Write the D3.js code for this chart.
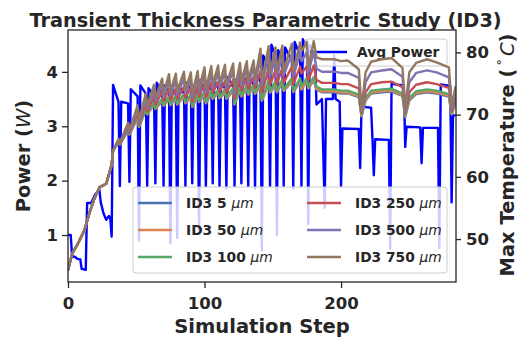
<!DOCTYPE html>
<html>
<head>
<meta charset="utf-8">
<script src="https://cdn.jsdelivr.net/npm/d3@7"></script>
<style>
body{margin:0;background:#fff;}
svg{display:block;font-family:"DejaVu Sans",sans-serif;}
</style>
</head>
<body>
<svg id="chart" width="522" height="341"></svg>
<script>
// values
const xTicks = [0, 100, 200];
const powerTicks = [1, 2, 3, 4];
const tempTicks = [50, 60, 70, 80];

// average power (W), step / value pairs at the break points of the trace
const powerSteps = [0,2,3,5,7,9,10,13,14,17,20,23,24,26,28,30,31,32,33,35,37,38,39,44,45,46,51,52,53,57,58,59,63,64,65,69,70,71,74,75,76,79,80,81,85,86,87,90,91,92,95,96,97,100,101,102,105,106,107,110,111,112,115,116,117,121,122,123,126,127,128,131,132,133,136,137,138,141,142,143,147,148,149,152,153,154,157,158,159,164,165,166,170,171,172,175,176,177,181,182,186,188,189,194,195,196,199,200,201,213,214,215,222,223,224,225,235,236,237,246,247,248,258,259,260,271,272,273,280,281,282,284];
const powerValues = [1.0,1.0,0.6,0.6,0.56,0.55,0.38,0.36,1.59,1.59,1.75,1.83,1.6,1.4,1.28,1.35,1.3,0.97,3.76,3.6,3.45,1.9,3.45,3.42,1.98,3.68,3.55,0.9,3.75,3.6,1.9,3.7,3.55,1.95,3.8,3.6,1.9,3.75,3.65,0.85,3.7,3.6,0.95,3.75,3.6,1.9,3.8,3.65,1.95,3.75,3.62,1.1,3.85,3.7,1.9,3.8,3.68,1.95,3.85,3.7,1.9,3.8,3.7,1.85,3.9,3.72,1.9,3.85,3.75,1.95,3.95,3.8,1.9,3.9,3.75,1.85,4.0,3.8,0.72,4.3,4.1,1.9,4.5,4.3,1.0,4.4,4.2,1.9,4.45,4.2,1.85,4.55,4.3,1.9,4.6,4.4,1.2,4.5,4.3,3.4,3.5,1.5,3.5,3.5,4.3,3.5,3.45,1.9,2.96,2.95,2.23,3.36,3.34,2.78,2.1,2.76,2.75,0.75,3.78,3.75,2.62,2.99,2.98,2.32,2.97,2.97,0.76,3.77,3.74,1.6,3.2,3.2];

// max temperature (C) for each thickness, sampled at the same steps
const tempSteps = [0,3,8,12,16,19,23,28,30,32,33,37,38,44,45,51,52,57,58,63,64,69,70,74,75,79,80,85,86,90,91,95,96,100,101,105,106,110,111,115,116,121,122,126,127,131,132,136,137,141,142,147,148,152,153,157,158,164,165,170,171,175,176,180,182,186,195,200,205,213,215,218,222,230,237,245,247,250,255,263,270,279,281,284];
const temp5 = [45.0,47.6,49.6,51.4,54.4,56.3,58.3,58.9,60.4,62.0,64.2,
  65.6,65.2,67.5,66.8,69.5,68.0,70.8,70.0,71.6,70.9,72.2,71.4,72.5,71.5,72.6,71.6,72.9,71.8,72.8,71.2,73.0,72.0,73.2,71.8,73.4,72.5,73.5,72.6,73.6,72.5,73.8,71.6,73.9,72.9,74.2,73.2,74.3,73.3,74.6,72.2,75.0,73.5,74.8,73.6,75.1,73.8,75.3,73.6,75.3,74.0,75.4,74.2,75.5,
  74.0,73.6,73.6,73.4,73.4,72.8,69.7,72.3,73.4,73.6,73.7,73.0,69.6,72.3,73.3,73.6,73.4,72.9,70.0,71.8];
const temp50 = [45.0,47.6,49.6,51.4,54.4,56.3,58.3,58.9,60.4,62.0,64.2,
  65.62,65.21,67.55,66.83,69.6,68.05,70.9,70.05,71.7,70.95,72.32,71.47,72.62,71.57,72.72,71.67,73.02,71.87,72.92,71.27,73.12,72.07,73.35,71.88,73.55,72.58,73.65,72.68,73.75,72.58,73.95,71.68,74.05,72.98,74.35,73.28,74.45,73.38,74.75,72.28,75.15,73.58,74.95,73.68,75.25,73.88,75.45,73.68,75.45,74.08,75.55,74.28,75.65,
  74.15,73.75,73.75,73.55,73.55,72.95,69.8,72.45,73.55,73.75,73.85,73.15,69.7,72.45,73.45,73.75,73.55,73.05,70.1,71.9];
const temp100 = [45.0,47.6,49.6,51.4,54.4,56.3,58.3,58.9,60.4,62.0,64.2,
  65.65,65.23,67.65,66.88,69.75,68.15,71.1,70.15,71.95,71.1,72.6,71.62,72.95,71.75,73.05,71.85,73.35,72.05,73.25,71.45,73.45,72.25,73.7,72.08,73.9,72.78,74.0,72.88,74.1,72.78,74.3,71.88,74.4,73.18,74.7,73.48,74.8,73.58,75.15,72.5,75.55,73.8,75.35,73.9,75.65,74.1,75.85,73.9,75.85,74.6,75.95,74.5,76.05,
  74.5,74.05,74.05,73.85,73.85,73.2,70.0,72.7,73.85,74.05,74.15,73.4,69.9,72.7,73.75,74.05,73.85,73.3,70.3,72.1];
const temp250 = [45.0,47.6,49.6,51.4,54.4,56.3,58.3,58.9,60.4,62.0,64.2,
  65.75,65.28,67.95,67.05,70.3,68.45,71.8,70.55,72.9,71.6,73.7,72.2,74.1,72.4,74.2,72.5,74.5,72.7,74.4,72.1,74.6,72.9,75.0,72.8,75.2,73.5,75.3,73.6,75.4,73.5,75.6,72.6,75.7,73.9,76.0,74.2,76.1,74.3,77.0,73.5,77.4,74.8,77.2,74.9,77.5,75.1,77.7,74.9,77.7,76.6,77.8,75.5,77.9,
  75.6,75.1,75.1,74.9,74.9,74.2,70.3,73.6,74.9,75.2,75.3,74.4,70.2,73.6,74.8,75.2,74.9,74.3,70.6,72.8];
const temp500 = [45.0,47.6,49.6,51.4,54.4,56.3,58.3,58.9,60.4,62.0,64.2,
  65.9,65.37,68.3,67.25,70.9,68.8,72.7,71.05,73.9,72.2,74.8,72.85,75.4,73.1,75.5,73.2,75.8,73.4,75.7,72.8,75.9,73.6,76.4,73.55,76.6,74.25,76.7,74.35,76.8,74.25,77.0,73.35,77.1,74.65,77.4,74.95,77.5,75.05,79.1,74.7,79.5,76.0,79.3,76.1,79.6,76.3,79.8,76.1,79.9,78.6,80.0,76.7,80.1,
  77.4,76.9,76.9,76.7,76.7,75.9,70.6,75.2,76.8,77.1,77.3,76.1,70.5,75.2,76.7,77.1,76.8,76.0,71.0,73.6];
const temp750 = [45.0,47.6,49.6,51.4,54.4,56.3,58.3,58.9,60.4,62.0,64.2,
  66.1,65.48,68.7,67.5,71.5,69.1,73.4,71.45,74.8,72.7,75.8,73.4,76.5,73.7,76.6,73.8,76.9,74.0,76.8,73.4,77.0,74.2,77.6,74.2,77.8,74.9,77.9,75.0,78.0,74.9,78.2,74.0,78.3,75.3,78.6,75.6,78.7,75.7,80.6,75.5,81.0,76.8,80.8,76.9,81.1,77.1,81.4,76.9,81.6,80.2,81.7,77.5,81.8,
  79.2,78.9,78.9,78.6,78.7,77.3,71.0,76.8,78.5,78.9,79.1,77.5,70.9,76.8,78.3,78.9,78.4,77.6,71.5,74.6];

const thicknessLabels = ['5', '50', '100', '250', '500', '750'];
const thicknessColors = ['#4c72b0', '#dd8452', '#55a868', '#c44e52', '#8172b3', '#937860'];
const tempSeries = [temp5, temp50, temp100, temp250, temp500, temp750];

const ink = '#262626';
const plot = {left: 68, right: 456, top: 30, bottom: 282};

const svg = d3.select('#chart');

const x = d3.scaleLinear().domain([0, 284.2]).range([plot.left, plot.right]);
const yP = d3.scaleLinear().domain([0.136, 4.77]).range([plot.bottom, plot.top]);
const yT = d3.scaleLinear().domain([43.1, 83.6]).range([plot.bottom, plot.top]);

svg.append('defs').append('clipPath').attr('id', 'plotClip').append('rect')
  .attr('x', plot.left).attr('y', plot.top)
  .attr('width', plot.right - plot.left).attr('height', plot.bottom - plot.top);

//power trace (left axis)
const powerPts = powerSteps.map((s, i) => [s, powerValues[i]]);
svg.append('path').datum(powerPts)
  .attr('d', d3.line().x(d => x(d[0])).y(d => yP(d[1])))
  .attr('fill', 'none').attr('stroke', '#0000ff').attr('stroke-width', 2.4)
  .attr('stroke-linejoin', 'round').attr('clip-path', 'url(#plotClip)');

//legend of the left axis sits under the temperature lines
const leg1 = svg.append('g');
leg1.append('rect').attr('x', 305).attr('y', 39).attr('width', 142).attr('height', 27)
  .attr('rx', 3).attr('fill', '#fff').attr('fill-opacity', 0.8).attr('stroke', '#ccc').attr('stroke-width', 1);
leg1.append('line').attr('x1', 310).attr('x2', 347).attr('y1', 52).attr('y2', 52)
  .attr('stroke', '#0000ff').attr('stroke-width', 2.4);
leg1.append('text').attr('x', 357).attr('y', 57).attr('font-size', 13.8).attr('font-weight', 'bold')
  .attr('fill', ink).text('Avg Power');

//temperature traces (right axis)
const tempLine = d3.line().x(d => x(d[0])).y(d => yT(d[1]));
tempSeries.forEach((vals, k) => {
  svg.append('path').datum(tempSteps.map((s, i) => [s, vals[i]]))
    .attr('d', tempLine).attr('fill', 'none')
    .attr('stroke', thicknessColors[k]).attr('stroke-width', 2.4)
    .attr('stroke-linejoin', 'round').attr('clip-path', 'url(#plotClip)');
});

//legend of the thickness runs
const leg2 = svg.append('g');
leg2.append('rect').attr('x', 133).attr('y', 187).attr('width', 314).attr('height', 86)
  .attr('rx', 3).attr('fill', '#fff').attr('fill-opacity', 0.8).attr('stroke', '#ccc').attr('stroke-width', 1);
thicknessLabels.forEach((t, k) => {
  const col = Math.floor(k / 3), row = k % 3;
  const lx = col === 0 ? 138 : 307;
  const ly = 203 + row * 27;
  leg2.append('line').attr('x1', lx).attr('x2', lx + 34).attr('y1', ly).attr('y2', ly)
    .attr('stroke', thicknessColors[k]).attr('stroke-width', 2.4);
  const tx = leg2.append('text').attr('x', lx + 48).attr('y', ly + 5)
    .attr('font-size', 13.8).attr('fill', ink);
  tx.append('tspan').attr('font-weight', 'bold').text(`ID3 ${t} `);
  tx.append('tspan').attr('font-style', 'italic').text('\u03bcm');
});

//frame
svg.append('rect').attr('x', plot.left).attr('y', plot.top)
  .attr('width', plot.right - plot.left).attr('height', plot.bottom - plot.top)
  .attr('fill', 'none').attr('stroke', ink).attr('stroke-width', 1.3);

const styleAxis = g => {
  g.select('.domain').remove();
  g.selectAll('line').attr('stroke', ink).attr('stroke-width', 1.3);
  g.selectAll('text').attr('font-size', 16.5).attr('font-weight', 'bold')
    .attr('fill', ink).attr('font-family', '"DejaVu Sans",sans-serif');
};

svg.append('g').attr('transform', `translate(0,${plot.bottom})`)
  .call(d3.axisBottom(x).tickValues(xTicks).tickSize(6).tickPadding(9.5).tickFormat(d3.format('d')))
  .call(styleAxis);
svg.append('g').attr('transform', `translate(${plot.left},0)`)
  .call(d3.axisLeft(yP).tickValues(powerTicks).tickSize(6).tickPadding(4).tickFormat(d3.format('d')))
  .call(styleAxis);
svg.append('g').attr('transform', `translate(${plot.right},0)`)
  .call(d3.axisRight(yT).tickValues(tempTicks).tickSize(5).tickPadding(5).tickFormat(d3.format('d')))
  .call(styleAxis);

//titles
svg.append('text').attr('x', 265.5).attr('y', 27).attr('text-anchor', 'middle')
  .attr('font-size', 19.3).attr('font-weight', 'bold').attr('fill', ink)
  .text('Transient Thickness Parametric Study (ID3)');

svg.append('text').attr('x', 262).attr('y', 333).attr('text-anchor', 'middle')
  .attr('font-size', 19.5).attr('font-weight', 'bold').attr('fill', ink)
  .text('Simulation Step');

const pl = svg.append('text').attr('transform', 'translate(30,156) rotate(-90)')
  .attr('text-anchor', 'middle').attr('font-size', 19.5).attr('font-weight', 'bold').attr('fill', ink);
pl.append('tspan').text('Power (');
pl.append('tspan').attr('font-style', 'italic').attr('font-weight', 'normal').text('W');
pl.append('tspan').text(')');

const tl = svg.append('text').attr('transform', 'translate(514,155) rotate(-90)')
  .attr('text-anchor', 'middle').attr('font-size', 19.5).attr('font-weight', 'bold').attr('fill', ink);
tl.append('tspan').text('Max Temperature (');
tl.append('tspan').attr('font-weight', 'normal').attr('font-size', 13).attr('dx', 3).attr('dy', -8).text('\u00b0');
tl.append('tspan').attr('font-weight', 'normal').attr('font-style', 'italic').attr('dx', 3).attr('dy', 8).text('C');
tl.append('tspan').text(')');
</script>
</body>
</html>
